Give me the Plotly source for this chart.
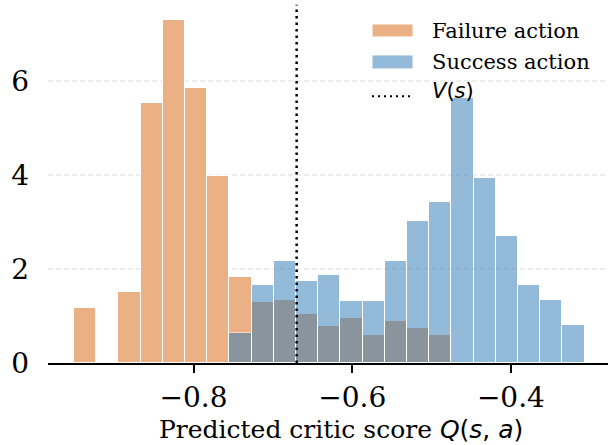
import numpy as np
import plotly.graph_objects as go

# ---- data ----
bin_start = -0.9506
bin_width = 0.02798
failure_density = [1.17, 0.0, 1.515, 5.54, 7.30, 5.86, 3.98, 1.83, 1.30, 1.35, 1.05,
                   0.78, 0.95, 0.59, 0.89, 0.755, 0.59, 0.0, 0.0, 0.0, 0.0, 0.0, 0.0]
success_density = [0.0, 0.0, 0.0, 0.0, 0.0, 0.0, 0.0, 0.64, 1.655, 2.166, 1.74,
                   1.87, 1.315, 1.33, 2.166, 3.03, 3.43, 5.65, 3.95, 2.70, 1.655, 1.35, 0.80]
v_s = -0.670
x_ticks = [-0.8, -0.6, -0.4]
x_tick_labels = ["\u22120.8", "\u22120.6", "\u22120.4"]
y_ticks = [0, 2, 4, 6]
y_tick_labels = ["0", "2", "4", "6"]

centers = [bin_start + bin_width * (i + 0.5) for i in range(len(failure_density))]

ORANGE = "rgb(235,176,132)"
BLUE = "rgb(41,121,181)"
SERIF = "DejaVu Serif"
SANS = "DejaVu Sans"

W, H = 608, 445
L, R, T, B = 48, 0, 3, 81.5
pw, ph = W - L - R, H - T - B

def px(xp):
    return (xp - L) / pw

def py(yp):
    return (H - B - yp) / ph

fig = go.Figure()
fig.add_trace(go.Bar(x=centers, y=failure_density, width=bin_width,
                     marker=dict(color=ORANGE, line=dict(color="white", width=1)),
                     name="Failure action", showlegend=False))
fig.add_trace(go.Bar(x=centers, y=success_density, width=bin_width, opacity=0.5,
                     marker=dict(color=BLUE, line=dict(color="white", width=1)),
                     name="Success action", showlegend=False))

# V(s) dotted line
fig.add_shape(type="line", xref="x", yref="paper", x0=v_s, x1=v_s, y0=0, y1=0.995,
              line=dict(color="black", width=2.5, dash="2.5px,4px"))

# custom legend
leg_x0, leg_x1 = 372, 413
fig.add_shape(type="rect", xref="paper", yref="paper", x0=px(leg_x0), x1=px(leg_x1),
              y0=py(37), y1=py(24), fillcolor=ORANGE, line=dict(color="white", width=1))
fig.add_shape(type="rect", xref="paper", yref="paper", x0=px(leg_x0), x1=px(leg_x1),
              y0=py(69), y1=py(55), fillcolor=BLUE, opacity=0.5, line=dict(color="white", width=1))
fig.add_shape(type="line", xref="paper", yref="paper", x0=px(leg_x0), x1=px(leg_x1),
              y0=py(96.5), y1=py(96.5), line=dict(color="black", width=2, dash="2px,4px"))
legend_items = [("Failure action", 31, SERIF),
                ("Success action", 62.5, SERIF),
                ("<i>V</i>(<i>s</i>)", 91, SANS)]
for text, yc, fam in legend_items:
    fig.add_annotation(xref="paper", yref="paper", x=px(430), y=py(yc),
                       xanchor="left", yanchor="middle", showarrow=False,
                       text=text, font=dict(family=fam, size=21, color="black"))

# x axis title
fig.add_annotation(xref="paper", yref="paper", x=px(341), y=py(430),
                   xanchor="center", yanchor="middle", showarrow=False,
                   text="Predicted critic score <span style=\"font-family:'DejaVu Sans'\"><i>Q</i>(<i>s</i>, <i>a</i>)</span>",
                   font=dict(family=SERIF, size=25, color="black"))

fig.update_layout(
    width=W, height=H,
    margin=dict(l=L, r=R, t=T, b=B, pad=0),
    barmode="overlay", bargap=0,
    plot_bgcolor="white", paper_bgcolor="white",
    font=dict(family=SERIF, color="black"),
)
fig.update_xaxes(range=[-0.98336, -0.27763], tickvals=x_ticks, ticktext=x_tick_labels,
                 ticks="outside", ticklen=8, tickwidth=1.5, tickcolor="black",
                 showline=True, linecolor="black", linewidth=2,
                 showgrid=False, zeroline=False,
                 tickfont=dict(family=SERIF, size=28, color="black"), ticklabelstandoff=0)
fig.update_yaxes(range=[0, 7.670], tickvals=y_ticks, ticktext=y_tick_labels,
                 ticks="", showline=False, zeroline=False,
                 showgrid=True, gridcolor="rgb(238,238,238)", gridwidth=1.5, griddash="5px,3px",
                 tickfont=dict(family=SERIF, size=28, color="black"), ticklabelstandoff=18)

fig.write_html("out.html", config={"displayModeBar": False},
               post_script="document.body.style.margin='0';document.body.style.overflow='hidden';")
